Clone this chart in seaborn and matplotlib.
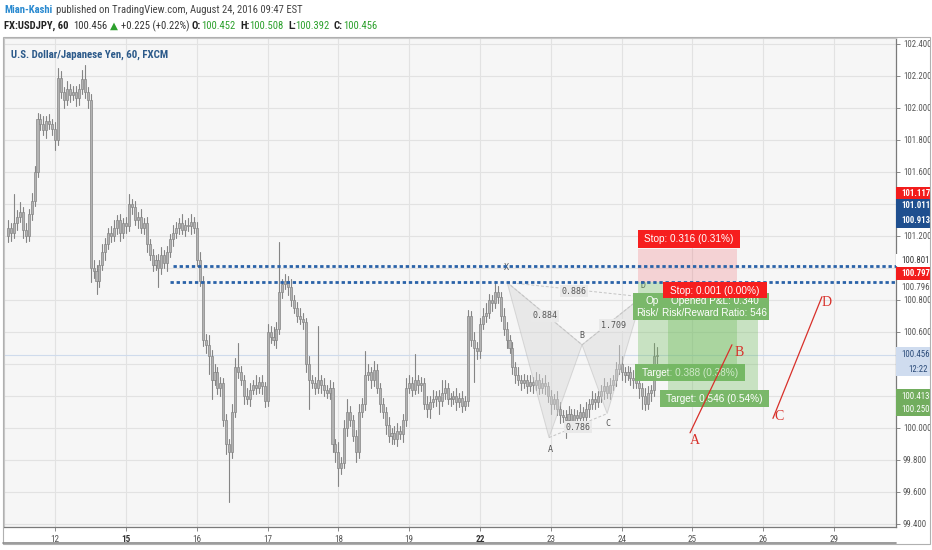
import matplotlib
matplotlib.use("Agg")
import matplotlib.pyplot as plt
import matplotlib.font_manager as fm
import matplotlib.transforms as mtransforms
from matplotlib.patches import Rectangle, Polygon
import numpy as np
import pandas as pd
import seaborn as sns

# ---------------- data ----------------
closes = [
    101.25, 101.22, 101.28, 101.32, 101.35, 101.24, 101.20, 101.34, 101.42, 101.60,
    101.93, 101.90, 101.86, 101.92, 101.90, 101.87, 101.80, 102.19, 102.10, 102.05,
    102.12, 102.08, 102.10, 102.06, 102.12, 102.18, 102.10, 102.05, 101.00, 100.98,
    100.92, 101.02, 101.10, 101.15, 101.22, 101.20, 101.25, 101.30, 101.22, 101.28,
    101.26, 101.40, 101.38, 101.30, 101.32, 101.25, 101.28, 101.15, 101.08, 101.02,
    101.05, 101.00, 101.08, 101.03, 101.10, 101.18, 101.22, 101.25, 101.28, 101.24,
    101.27, 101.26, 101.29, 101.25, 101.05, 100.92, 100.55, 100.52, 100.45, 100.30,
    100.35, 100.25, 100.28, 100.05, 99.90, 99.85, 100.10, 100.38, 100.35, 100.30,
    100.20, 100.18, 100.24, 100.27, 100.25, 100.29, 100.26, 100.17, 100.60, 100.57,
    100.55, 100.62, 100.85, 100.90, 100.92, 100.88, 100.80, 100.75, 100.70, 100.68,
    100.66, 100.40, 100.30, 100.28, 100.25, 100.30, 100.27, 100.24, 100.22, 100.25,
    99.90, 99.85, 99.75, 99.78, 100.00, 100.10, 100.05, 99.95, 99.85, 100.10,
    100.15, 100.33, 100.35, 100.30, 100.36, 100.25, 100.15, 100.10, 100.02, 99.95,
    99.97, 99.93, 99.98, 99.96, 100.05, 100.25, 100.28, 100.24, 100.30, 100.27,
    100.28, 100.15, 100.12, 100.16, 100.18, 100.20, 100.17, 100.22, 100.25, 100.18,
    100.18, 100.20, 100.16, 100.19, 100.14, 100.17, 100.70, 100.55, 100.50, 100.48,
    100.65, 100.70, 100.72, 100.80, 100.78, 100.85, 100.82, 100.70, 100.62, 100.55,
    100.50, 100.38, 100.33, 100.30, 100.28, 100.30, 100.26, 100.29, 100.27, 100.30,
    100.25, 100.28, 100.26, 100.20, 100.15, 100.18, 100.12, 100.08, 100.07, 100.05,
    100.09, 100.03, 100.08, 100.06, 100.10, 100.07, 100.12, 100.15, 100.18, 100.16,
    100.20, 100.23, 100.26, 100.22, 100.27, 100.30, 100.37, 100.40, 100.35, 100.33,
    100.35, 100.31, 100.30, 100.28, 100.25, 100.20, 100.15, 100.22, 100.24, 100.45,
    100.456,
]
first_open = 101.20
# upper / lower wick lengths in pips (0.01 JPY)
wick_up = [
    5, 3, 18, 4, 6, 3, 4, 3, 5, 4,   4, 3, 5, 3, 4, 3, 4, 6, 4, 3,
    5, 3, 4, 4, 3, 6, 9, 3, 4, 5,    4, 3, 5, 4, 3, 4, 5, 3, 4, 3,
    4, 6, 3, 4, 3, 5, 3, 4, 3, 4,    3, 4, 5, 3, 4, 3, 5, 4, 3, 6,
    3, 4, 5, 3, 4, 5, 3, 4, 6, 4,    5, 3, 4, 3, 4, 3, 5, 6, 15, 4,
    3, 5, 4, 3, 6, 3, 4, 3, 5, 4,    6, 4, 31, 3, 4, 3, 5, 3, 4, 5,
    4, 3, 5, 3, 4, 34, 3, 4, 3, 5,   4, 3, 6, 4, 5, 8, 4, 3, 4, 5,
    4, 15, 5, 3, 6, 4, 3, 4, 3, 5,   3, 4, 5, 3, 4, 6, 5, 4, 16, 3,
    4, 3, 5, 4, 6, 3, 4, 8, 5, 3,    4, 3, 5, 3, 4, 3, 4, 3, 5, 4,
    4, 5, 6, 4, 3, 7, 4, 3, 5, 4,    3, 4, 3, 5, 3, 4, 3, 4, 3, 5,
    4, 3, 5, 3, 4, 3, 5, 4, 3, 4,    5, 3, 4, 3, 5, 3, 4, 3, 5, 4,
    3, 4, 5, 3, 4, 3, 4, 12, 5, 3,   4, 3, 5, 3, 4, 3, 5, 4, 3, 8,
    5,
]
wick_dn = [
    4, 5, 3, 4, 3, 5, 4, 3, 4, 3,    3, 4, 3, 5, 3, 4, 6, 3, 4, 5,
    3, 4, 3, 5, 4, 3, 4, 5, 9, 4,    8, 4, 3, 5, 3, 4, 3, 4, 5, 3,
    4, 3, 4, 3, 5, 3, 4, 5, 3, 4,    3, 12, 4, 3, 5, 3, 4, 3, 4, 3,
    4, 3, 5, 3, 4, 3, 4, 5, 11, 12,  3, 4, 5, 4, 6, 31, 4, 3, 4, 3,
    5, 3, 4, 3, 4, 3, 5, 4, 3, 4,    3, 5, 3, 4, 3, 5, 4, 3, 4, 3,
    4, 5, 18, 3, 4, 3, 5, 4, 3, 4,   5, 6, 11, 4, 3, 5, 4, 3, 6, 4,
    3, 4, 3, 5, 4, 3, 5, 4, 6, 4,    5, 3, 4, 3, 5, 4, 3, 4, 3, 5,
    4, 3, 5, 6, 3, 4, 8, 3, 4, 3,    4, 3, 5, 3, 4, 3, 3, 4, 21, 5,
    4, 3, 4, 3, 5, 3, 4, 3, 4, 5,    3, 4, 5, 3, 4, 3, 4, 3, 5, 3,
    4, 3, 5, 4, 6, 3, 4, 5, 3, 11,   4, 5, 3, 4, 6, 3, 4, 5, 3, 4,
    3, 4, 5, 3, 4, 3, 4, 3, 5, 4,    3, 4, 5, 3, 6, 8, 4, 3, 5, 4,
    6,
]

day_labels = ["12", "15", "16", "17", "18", "19", "22", "23", "24", "25", "26", "29"]
day_index = [16, 40, 64, 88, 112, 136, 160, 184, 208, 232, 256, 280]
week_start_days = ["15", "22"]

grid_prices = [99.4, 99.6, 99.8, 100.0, 100.2, 100.4, 100.6, 100.8,
               101.0, 101.2, 101.4, 101.6, 101.8, 102.0, 102.2, 102.4]
tick_prices = [99.4, 99.6, 99.8, 100.0, 100.6, 100.8, 101.2, 101.6, 101.8, 102.0, 102.2, 102.4]
tick_labels = ["99.400", "99.600", "99.800", "100.000", "100.600", "100.800",
               "101.200", "101.600", "101.800", "102.000", "102.200", "102.400"]

level_prices = [101.0125, 100.9125]
level_start = [55.9, 54.9]
last_price = 100.456

# harmonic pattern X, A, B, C, D  (candle index, price)
pat_names = ["X", "A", "B", "C", "D"]
pat_idx = [169.2, 183.4, 194.6, 203.1, 214.9]
pat_price = [100.91, 99.94, 100.52, 100.09, 100.82]
pat_ratios = ["0.884", "0.786", "1.709", "0.886"]

# position tools: start, end (candle index), stop, entry, target (price)
pos_start = [213.5, 223.7]
pos_end = [247.1, 254.2]
pos_stop = [101.12, 100.82]
pos_entry = [100.91, 100.81]
pos_target = [100.38, 100.225]

# hand-drawn red A-B / C-D legs
leg_names = ["A", "B", "C", "D"]
leg_idx = [231.2, 245.4, 259.3, 275.9]
leg_price = [99.97, 100.52, 100.06, 100.82]

# ---------------- fonts ----------------
avail = {f.name for f in fm.fontManager.ttflist}
def pick(cands):
    for c in cands:
        if c in avail:
            return c
    return "DejaVu Sans"
NARROW = pick(["Liberation Sans Narrow", "Roboto Condensed", "Open Sans Condensed", "Liberation Sans"])
SANS = pick(["Liberation Sans", "Arimo", "DejaVu Sans"])
SERIF = pick(["Liberation Serif", "DejaVu Serif"])
MONO = pick(["DejaVu Sans Mono", "Liberation Mono"])

sns.set_theme(style="white")
plt.rcParams["font.family"] = [NARROW, "DejaVu Sans"]

W, H = 932, 550
fig = plt.figure(figsize=(W / 100, H / 100), dpi=100)
fig.patch.set_facecolor("#ffffff")

L, T, R, B = 4, 38, 896, 527
ax = fig.add_axes([L / W, 1 - B / H, (R - L) / W, (B - T) / H])
ax.set_facecolor("#f6f6f6")

# pixel-space transform (x right, y down, in output pixels)
PX = mtransforms.Affine2D().scale(1 / W, -1 / H).translate(0, 1) + fig.transFigure

# ---------------- candles ----------------
n = len(closes)
idx = np.arange(n)
c = np.array(closes)
o = np.array([first_open] + closes[:-1])
hi = np.maximum(o, c) + np.array(wick_up) / 100.0
lo = np.minimum(o, c) - np.array(wick_dn) / 100.0

wick_df = pd.DataFrame({
    "x": np.concatenate([idx, idx]),
    "price": np.concatenate([lo, hi]),
    "candle": np.concatenate([idx, idx]),
})
sns.lineplot(data=wick_df, x="x", y="price", units="candle", estimator=None,
             sort=False, color="#858585", lw=0.8, ax=ax, zorder=2, legend=False)
body_bot = np.minimum(o, c)
body_h = np.maximum(np.abs(c - o), 0.008)
ax.bar(idx, body_h, bottom=body_bot, width=0.68, color="#b3b3b3",
       edgecolor="#858585", linewidth=0.5, zorder=3)

# ---------------- axes / grid ----------------
ax.set_xlim((L - 8) / 2.95, (R - 8) / 2.95)
ax.set_ylim(100 + (428 - B) / 160, 100 + (428 - T) / 160)
for p in grid_prices:
    ax.axhline(p, color="#e2e2e2", lw=0.8, zorder=0.5)
for d in day_index:
    ax.axvline(d, color="#e2e2e2", lw=0.8, zorder=0.5)
ax.axhline(last_price, color="#cfdbec", lw=0.8, zorder=1)

ax.yaxis.tick_right()
ax.set_yticks(tick_prices)
ax.set_yticklabels(tick_labels)
ax.set_xticks(day_index)
ax.set_xticklabels(day_labels)
ax.tick_params(axis="y", which="both", right=True, length=3, width=0.6, pad=2,
               labelsize=6.3, labelcolor="#555555", color="#777777")
ax.tick_params(axis="x", which="both", bottom=True, length=3, width=0.6, pad=3,
               labelsize=6.6, labelcolor="#555555", color="#777777")
for lab in ax.get_xticklabels():
    if lab.get_text() in week_start_days:
        lab.set_fontweight("bold")
        lab.set_color("#333333")
ax.set_xlabel("")
ax.set_ylabel("")
for s in ["left", "top"]:
    ax.spines[s].set_color("#c8c8c8")
    ax.spines[s].set_linewidth(0.8)
for s in ["right", "bottom"]:
    ax.spines[s].set_color("#7a7a7a")
    ax.spines[s].set_linewidth(0.9)

# ---------------- harmonic pattern ----------------
pts = list(zip(pat_idx, pat_price))
for tri in ([0, 1, 2], [2, 3, 4]):
    ax.add_patch(Polygon([pts[k] for k in tri], closed=True, facecolor="#d9d9d9",
                         alpha=0.45, edgecolor="#b4b4b4", lw=0.7, zorder=4))
for a_, b_ in ([0, 2], [1, 3], [2, 4], [0, 4]):
    ax.plot([pat_idx[a_], pat_idx[b_]], [pat_price[a_], pat_price[b_]],
            color="#c4c4c4", lw=0.7, ls=(0, (3, 2)), zorder=4)

# ---------------- position tools ----------------
for k in range(2):
    ax.add_patch(Rectangle((pos_start[k], pos_entry[k]), pos_end[k] - pos_start[k],
                           pos_stop[k] - pos_entry[k], facecolor="#f06a72",
                           alpha=0.25, lw=0, zorder=5 + 2 * k))
    ax.add_patch(Rectangle((pos_start[k], pos_target[k]), pos_end[k] - pos_start[k],
                           pos_entry[k] - pos_target[k], facecolor="#6dbb5a",
                           alpha=0.33, lw=0, zorder=5 + 2 * k))

# support / resistance dotted levels
for p, s in zip(level_prices, level_start):
    ax.plot([s, ax.get_xlim()[1]], [p, p], color="#2a62a8", lw=2.0,
            ls=(0, (1.2, 1.0)), zorder=5.5, solid_capstyle="butt")

def box(x0, y0, x1, y1, face, z, alpha=1.0):
    ax.add_patch(Rectangle((x0, y0), x1 - x0, y1 - y0, transform=PX, facecolor=face,
                           edgecolor="none", alpha=alpha, clip_on=False, zorder=z))

def ptext(x, y, s, z, **kw):
    ax.text(x, y, s, transform=PX, clip_on=False, zorder=z, va="center", **kw)

RED = "#f61e1e"
GRN = "#7ab86a"
LS = 7.2
# position 1 labels (its P&L label is mostly hidden behind position 2's label)
box(638, 230, 740, 248, RED, 6.2)
ptext(689, 239.5, "Stop: 0.316 (0.31%)", 6.3, ha="center", color="white", fontsize=LS, family=SANS)
box(633, 293, 743, 320, GRN, 6.2)
ptext(645, 300.5, "Op", 6.3, ha="left", color="white", fontsize=LS, family=SANS)
ptext(636, 312.5, "Risk/", 6.3, ha="left", color="white", fontsize=LS, family=SANS)
box(635, 364, 745, 381, GRN, 6.2)
ptext(690, 372.5, "Target: 0.388 (0.38%)", 6.3, ha="center", color="white", fontsize=LS, family=SANS)
# position 2 labels (zone drawn at zorder 7 above label 1)
box(660, 293, 769, 320, GRN, 8.2)
ptext(714.5, 301.5, "Opened P&L: 0.340", 8.3, ha="center", color="white", fontsize=LS, family=SANS)
ptext(714.5, 312.5, "Risk/Reward Ratio: 546", 8.3, ha="center", color="white", fontsize=LS, family=SANS)
box(663, 282, 767, 298, RED, 8.4)
ptext(715, 290.5, "Stop: 0.001 (0.00%)", 8.5, ha="center", color="white", fontsize=LS, family=SANS)
box(660, 390, 769, 407, GRN, 8.2)
ptext(714.5, 398.5, "Target: 0.546 (0.54%)", 8.3, ha="center", color="white", fontsize=LS, family=SANS)

# harmonic labels
for name, (xp, yp) in zip(pat_names, [(506, 268), (550, 449), (582, 335), (608, 424), (643, 286)]):
    ptext(xp, yp, name, 4.5, ha="center", color="#555555", fontsize=6, family=MONO)
for r, (xp, yp) in zip(pat_ratios, [(545, 316), (578, 427), (613, 325), (574, 291)]):
    ax.text(xp, yp, r, transform=PX, clip_on=False, zorder=4.6, va="center", ha="center",
            color="#555555", fontsize=6, family=MONO,
            bbox=dict(boxstyle="square,pad=0.15", fc="#e9e9e9", ec="none"))

# red hand-drawn legs
for a_, b_ in ([0, 1], [2, 3]):
    ax.plot([leg_idx[a_], leg_idx[b_]], [leg_price[a_], leg_price[b_]],
            color="#d8302a", lw=0.9, zorder=9)
for name, (xp, yp) in zip(leg_names, [(695, 441), (739, 352), (779, 416), (827, 303)]):
    ptext(xp, yp, name, 9.1, ha="center", color="#d8302a", fontsize=10, family=SERIF)

# chart title
ptext(11, 55, "U.S. Dollar/Japanese Yen, 60, FXCM", 10, ha="left", color="#2c5a8a",
      fontsize=7.8, fontweight="bold")

# ---------------- right-axis tags ----------------
def ftag(y0, y1, face):
    fig.add_artist(Rectangle((R, y0), W - R - 1, y1 - y0, transform=PX, facecolor=face,
                             edgecolor="none", zorder=5))

def ftxt(x, y, s, color, bold=False, ha="left"):
    fig.text(x, y, s, transform=PX, color=color, fontsize=6.3, va="center", ha=ha,
             fontweight="bold" if bold else "normal", zorder=6)

ftag(187, 199, "#f21c1c"); ftxt(901, 193.5, "101.117", "white", True)
ftag(199, 228, "#1f4f8f"); ftxt(901, 206, "101.011", "white", True); ftxt(901, 220.5, "100.913", "white", True)
ftag(254, 266, "#ffffff"); ftxt(901, 260.5, "100.801", "#333333")
ftag(267, 280, "#f21c1c"); ftxt(901, 273.5, "100.797", "white", True)
ftxt(901, 287.5, "100.796", "#555555")
ftag(347, 376, "#cfdcef"); ftxt(901, 354.5, "100.456", "#2a4a78"); ftxt(928, 369, "12:22", "#2a4a78", ha="right")
ftag(389, 416, "#72ad5e"); ftxt(901, 396.5, "100.413", "white"); ftxt(901, 409.5, "100.250", "white")

# outer frame and header
fig.add_artist(Rectangle((3, 37), W - 5, 507, transform=PX, facecolor="none",
                         edgecolor="#b0b0b0", lw=0.8, zorder=7))
fig.add_artist(plt.Line2D([3, R], [543, 543], transform=PX, color="#8a8a8a", lw=1.2, zorder=7))

def htxt(x, y, s, color="#333333", bold=False, size=7.7):
    fig.text(x, y, s, transform=PX, color=color, fontsize=size, va="center", ha="left",
             fontweight="bold" if bold else "normal")

htxt(4, 10, "Mian-Kashi", "#2a8ad0", True)
htxt(56, 10, "published on TradingView.com, August 24, 2016 09:47 EST", "#444444")
htxt(4, 26, "FX:USDJPY, 60", "#222222", True)
htxt(73, 26, "100.456", "#333333")
fig.text(114, 26, "\u25B2", transform=PX, color="#2da02d", fontsize=7.5, va="center",
         ha="center", family="DejaVu Sans")
htxt(121, 26, "+0.225 (+0.22%)", "#333333")
htxt(192, 26, "O:", "#222222", True)
htxt(201, 26, "100.452", "#2ca02c")
htxt(240, 26, "H:", "#222222", True)
htxt(249, 26, "100.508", "#2ca02c")
htxt(288, 26, "L:", "#222222", True)
htxt(295, 26, "100.392", "#2ca02c")
htxt(334, 26, "C:", "#222222", True)
htxt(343, 26, "100.456", "#2ca02c")

fig.savefig("out.png", dpi=100, facecolor=fig.get_facecolor())
